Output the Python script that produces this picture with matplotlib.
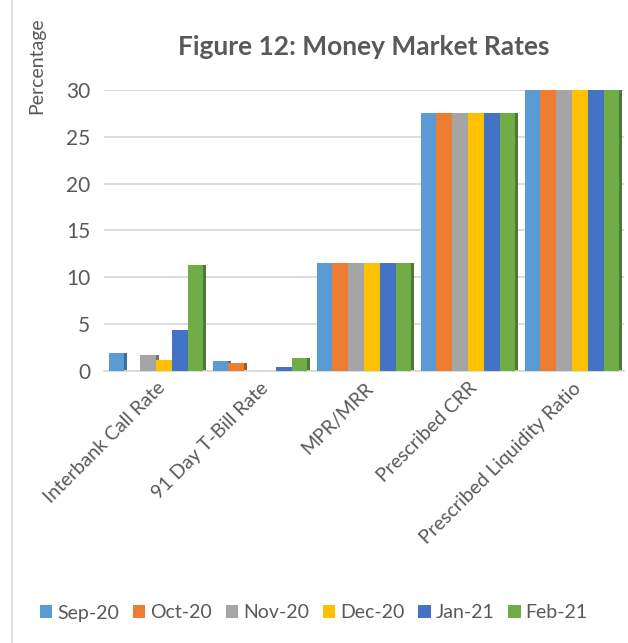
import numpy as np
import matplotlib
matplotlib.use("Agg")
import matplotlib.pyplot as plt
from matplotlib.patches import Patch
from matplotlib.lines import Line2D

plt.rcParams['font.family'] = ['Lato', 'DejaVu Sans']

categories = ['Interbank Call Rate', '91 Day T-Bill Rate', 'MPR/MRR',
              'Prescribed CRR', 'Prescribed Liquidity Ratio']
months = ['Sep-20', 'Oct-20', 'Nov-20', 'Dec-20', 'Jan-21', 'Feb-21']
sep20 = [1.95, 1.06, 11.5, 27.5, 30.0]
oct20 = [0.0, 0.82, 11.5, 27.5, 30.0]
nov20 = [1.7, 0.0, 11.5, 27.5, 30.0]
dec20 = [1.2, 0.05, 11.5, 27.5, 30.0]
jan21 = [4.35, 0.45, 11.5, 27.5, 30.0]
feb21 = [11.35, 1.4, 11.5, 27.5, 30.0]
series = [sep20, oct20, nov20, dec20, jan21, feb21]

colors = ['#5B9BD5', '#ED7D31', '#A5A5A5', '#FFC000', '#4472C4', '#70AD47']
sides = ['#3E6E9A', '#A9571F', '#747474', '#B38700', '#2F5089', '#4E7A31']
txt = '#595959'

fig = plt.figure(figsize=(6.28, 6.43), dpi=100)
ax = fig.add_axes([104/628, 1-371/643, 520/628, 281/643])

x = np.arange(len(categories))
w = 0.91 / 6
d = 0.025
for i, vals in enumerate(series):
    pos = x - 0.455 + i*w
    # side face (partly hidden by next bar)
    ax.bar(pos + w, vals, width=d, align='edge', color=sides[i], zorder=2)
for i, vals in enumerate(series):
    pos = x - 0.455 + i*w
    ax.bar(pos, vals, width=w, align='edge', color=colors[i], zorder=3)

ax.set_xlim(-0.5, 4.5)
ax.set_ylim(0, 30)
ax.set_yticks([0, 5, 10, 15, 20, 25, 30])
ax.yaxis.grid(True, color='#D9D9D9', linewidth=1.3, zorder=0)
ax.set_axisbelow(True)
for s in ['top', 'right', 'left']:
    ax.spines[s].set_visible(False)
ax.spines['bottom'].set_color('#D9D9D9')
ax.spines['bottom'].set_linewidth(1.3)
ax.tick_params(axis='y', length=0, labelsize=15, colors=txt, pad=10)
ax.set_xticks(x)
ax.set_xticklabels(categories, rotation=45, ha='right', rotation_mode='anchor')
ax.tick_params(axis='x', length=0, labelsize=14, colors=txt, pad=6)

fig.text(0.58, 1-47/643, 'Figure 12: Money Market Rates', ha='center', va='center',
         fontsize=19, fontweight='bold', color=txt)
fig.text(37/628, 1-66/643, 'Percentage', rotation=90, ha='center', va='center',
         fontsize=14, color=txt)

handles = [Patch(facecolor=c, edgecolor='none') for c in colors]
fig.legend(handles, months, loc='center left', bbox_to_anchor=(30/628, 1-613/643), ncol=6,
           frameon=False, fontsize=14, handlelength=0.65, handleheight=0.65,
           handletextpad=0.25, columnspacing=0.7, labelcolor=txt, borderpad=0)

fig.add_artist(Line2D([12/628, 12/628], [0, 1], color='#D9D9D9', linewidth=1.2,
                      transform=fig.transFigure))

fig.savefig('out.png', dpi=100)
